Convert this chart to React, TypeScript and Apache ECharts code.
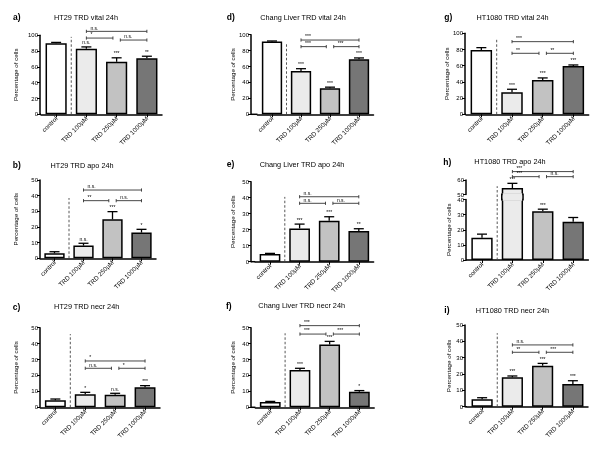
import React, { useEffect, useRef } from "react";
import * as echarts from "echarts";

const categories = ["control", "TRD 100µM", "TRD 250µM", "TRD 1000µM"];
const panelLetters = ["a)", "b)", "c)", "d)", "e)", "f)", "g)", "h)", "i)"];
const panelTitles = [
  "HT29 TRD vital 24h",
  "HT29 TRD apo 24h",
  "HT29 TRD necr 24h",
  "Chang Liver TRD vital 24h",
  "Chang Liver TRD apo 24h",
  "Chang Liver TRD necr 24h",
  "HT1080 TRD vital 24h",
  "HT1080 TRD apo 24h",
  "HT1080 TRD necr 24h",
];
const yAxisName = "Percentage of cells";

type Bracket = [number, number, number, string];

// a) HT29 vital
const htVitalMeans = [90, 83, 66.5, 71];
const htVitalErr = [1, 2.3, 5, 2.5];
const htVitalStars = ["", "n.s.", "***", "**"];
const htVitalBrackets: Bracket[] = [[1, 3, 105, "n.s."], [1, 2, 96.5, "*"], [2, 3, 94, "n.s."]];
// b) HT29 apo
const htApoMeans = [3.2, 8.1, 24.9, 16.4];
const htApoErr = [1, 1.5, 4.9, 2.1];
const htApoStars = ["", "n.s.", "***", "*"];
const htApoBrackets: Bracket[] = [[1, 3, 43.6, "n.s."], [1, 2, 36.8, "**"], [2, 3, 36.8, "n.s."]];
// c) HT29 necr
const htNecrMeans = [4.4, 8.2, 7.9, 12.6];
const htNecrErr = [0.8, 1.2, 0.9, 1.0];
const htNecrStars = ["", "*", "n.s.", "***"];
const htNecrBrackets: Bracket[] = [[1, 3, 29.1, "*"], [1, 2, 24.5, "n.s."], [2, 3, 24.5, "*"]];
// d) Chang Liver vital
const clVitalMeans = [91.5, 54.5, 32.8, 69.2];
const clVitalErr = [0.6, 2.8, 1.3, 1.6];
const clVitalStars = ["", "***", "***", "***"];
const clVitalBrackets: Bracket[] = [[1, 3, 93.3, "***"], [1, 2, 85, "***"], [2, 3, 85, "***"]];
// e) Chang Liver apo
const clApoMeans = [4.8, 20.8, 25.6, 19.2];
const clApoErr = [0.4, 2.7, 2.5, 1.4];
const clApoStars = ["", "***", "***", "**"];
const clApoBrackets: Bracket[] = [[1, 3, 40.6, "n.s."], [1, 2, 36.5, "n.s."], [2, 3, 36.5, "n.s."]];
// f) Chang Liver necr
const clNecrMeans = [3.3, 23.4, 39.5, 9.8];
const clNecrErr = [0.4, 1.1, 1.9, 0.7];
const clNecrStars = ["", "***", "***", "*"];
const clNecrBrackets: Bracket[] = [[1, 3, 51.3, "***"], [1, 2, 46, "***"], [2, 3, 46, "***"]];
// g) HT1080 vital
const fxVitalMeans = [79.4, 27.2, 42.4, 59.7];
const fxVitalErr = [2.9, 3.7, 2.5, 1.2];
const fxVitalStars = ["", "***", "***", "***"];
const fxVitalBrackets: Bracket[] = [[1, 3, 89.7, "***"], [1, 2, 75.3, "**"], [2, 3, 75.3, "**"]];
// h) HT1080 apo (broken axis)
const fxApoMeans = [14.7, 54.5, 32.3, 25.3];
const fxApoErr = [2.4, 3.2, 1.3, 2.8];
const fxApoStars = ["", "***", "***", ""];
const fxApoBrackets: Bracket[] = [[1, 3, 65.8, "***"], [1, 2, 62.3, "***"], [2, 3, 62.3, "n.s."]];
// i) HT1080 necr
const fxNecrMeans = [4.5, 18, 25.1, 13.9];
const fxNecrErr = [1, 0.8, 1.4, 2];
const fxNecrStars = ["", "***", "***", "***"];
const fxNecrBrackets: Bracket[] = [[1, 3, 37.8, "n.s."], [1, 2, 33.3, "**"], [2, 3, 33.3, "***"]];

const axisMax = [100, 50, 50, 100, 50, 50, 100, 40, 50];
const axisStep = [20, 10, 10, 20, 10, 10, 20, 10, 10];
const brokenUpperMin = 50;
const brokenUpperMax = 60;

const panelData = [
  { means: htVitalMeans, errs: htVitalErr, stars: htVitalStars, brackets: htVitalBrackets },
  { means: htApoMeans, errs: htApoErr, stars: htApoStars, brackets: htApoBrackets },
  { means: htNecrMeans, errs: htNecrErr, stars: htNecrStars, brackets: htNecrBrackets },
  { means: clVitalMeans, errs: clVitalErr, stars: clVitalStars, brackets: clVitalBrackets },
  { means: clApoMeans, errs: clApoErr, stars: clApoStars, brackets: clApoBrackets },
  { means: clNecrMeans, errs: clNecrErr, stars: clNecrStars, brackets: clNecrBrackets },
  { means: fxVitalMeans, errs: fxVitalErr, stars: fxVitalStars, brackets: fxVitalBrackets },
  { means: fxApoMeans, errs: fxApoErr, stars: fxApoStars, brackets: fxApoBrackets },
  { means: fxNecrMeans, errs: fxNecrErr, stars: fxNecrStars, brackets: fxNecrBrackets },
];

const layouts: any[] = [
  { axisX: 40, left: 41, top: 35.3, width: 121, height: 79, dash: 0.98, lx: 13, tx: 86, ty: 17.3, nameGap: 22 },
  { axisX: 40, left: 40, top: 180, width: 116, height: 78.3, dash: 0.77, lx: 12.7, tx: 82, ty: 165, nameGap: 22 },
  { axisX: 40, left: 40.4, top: 327.7, width: 119.6, height: 79.6, dash: 0.92, lx: 12.7, tx: 86.7, ty: 306.7, nameGap: 22 },
  { axisX: 251, left: 257.5, top: 34.7, width: 116, height: 79.6, dash: 0.89, lx: 226.7, tx: 303, ty: 17, nameGap: 16 },
  { axisX: 251, left: 255.2, top: 181.7, width: 118.4, height: 80, dash: 0.81, lx: 226.7, tx: 302, ty: 164, nameGap: 16 },
  { axisX: 251, left: 255.4, top: 327.7, width: 118.8, height: 79.6, dash: 0.93, lx: 226, tx: 301.7, ty: 305.7, nameGap: 16 },
  { axisX: 465, left: 466, top: 33.3, width: 122.7, height: 81, dash: 0.92, lx: 444.3, tx: 512.5, ty: 17.3, nameGap: 16 },
  { axisX: 466, left: 466.8, top: 199.5, width: 121.6, height: 60.5, upperTop: 180, upperHeight: 14.5, dash: 1.22, lx: 443.3, tx: 510, ty: 161.5, nameGap: 15 },
  { axisX: 465, left: 467, top: 325, width: 121, height: 81.7, dash: 0.9, lx: 444.3, tx: 512.5, ty: 310, nameGap: 14 },
];

const barColors = ["#ffffff", "#ebebeb", "#c2c2c2", "#767676"];
const BAR_FRACTION = 0.7;
const FONT = '"Liberation Sans", Arial, sans-serif';
const INK = "#000000";

function txt(text: string, x: number, y: number, size: number, align: string, vAlign: string, weight = "normal") {
  return {
    type: "text",
    style: {
      text,
      x,
      y,
      fontSize: size,
      fontFamily: FONT,
      fontWeight: weight,
      fill: INK,
      align,
      verticalAlign: vAlign,
    },
  };
}

function buildOption() {
  const grids: any[] = [];
  const xAxes: any[] = [];
  const yAxes: any[] = [];
  const series: any[] = [];
  const graphic: any[] = [];

  panelData.forEach((p, pi) => {
    const L = layouts[pi];
    const broken = L.upperTop !== undefined;
    const segs = broken
      ? [
          { top: L.upperTop, height: L.upperHeight, min: brokenUpperMin, max: brokenUpperMax, interval: 10, isTop: true, isBottom: false },
          { top: L.top, height: L.height, min: 0, max: axisMax[pi], interval: axisStep[pi], isTop: false, isBottom: true },
        ]
      : [{ top: L.top, height: L.height, min: 0, max: axisMax[pi], interval: axisStep[pi], isTop: true, isBottom: true }];

    graphic.push(txt(panelLetters[pi], L.lx, L.ty, 8.5, "left", "middle", "bold"));
    graphic.push(txt(panelTitles[pi], L.tx, L.ty, 7.3, "center", "middle"));

    segs.forEach((s) => {
      const gi = grids.length;
      grids.push({ left: L.left, top: s.top, width: L.width, height: s.height, containLabel: false });
      xAxes.push({
        type: "category",
        gridIndex: gi,
        data: categories,
        show: s.isBottom,
        axisLine: { show: true, lineStyle: { color: "#000", width: 1.5 } },
        axisTick: { show: true, alignWithLabel: true, length: 3, lineStyle: { color: "#000", width: 1 } },
        axisLabel: { rotate: 45, fontSize: 6.3, margin: 3, color: INK, interval: 0, fontFamily: FONT },
        splitLine: { show: false },
      });
      yAxes.push({
        type: "value",
        gridIndex: gi,
        min: s.min,
        max: s.max,
        interval: s.interval,
        offset: L.left - L.axisX,
        axisLine: { show: true, lineStyle: { color: "#000", width: 1.5 } },
        axisTick: { show: true, length: 3, lineStyle: { color: "#000", width: 1 } },
        axisLabel: { fontSize: 6, margin: 2, color: INK, fontFamily: FONT },
        splitLine: { show: false },
        name: s.isBottom ? yAxisName : "",
        nameLocation: "middle",
        nameGap: L.nameGap,
        nameRotate: 90,
        nameTextStyle: { fontSize: 6.2, color: INK, fontFamily: FONT },
      });

      series.push({
        type: "bar",
        xAxisIndex: gi,
        yAxisIndex: gi,
        barWidth: BAR_FRACTION * 100 + "%",
        clip: true,
        z: 2,
        data: p.means.map((v, k) => ({
          value: v,
          itemStyle: { color: barColors[k], borderColor: "#000", borderWidth: 1.5 },
        })),
      });

      const inSeg = (top: number) => top >= s.min && top <= s.max + (s.isTop ? 1000 : 0);
      series.push({
        type: "custom",
        xAxisIndex: gi,
        yAxisIndex: gi,
        z: 5,
        clip: false,
        data: p.means.map((v, k) => [k, v + p.errs[k]]),
        renderItem: (params: any, api: any) => {
          const k = params.dataIndex;
          const m = p.means[k];
          const e = p.errs[k];
          const children: any[] = [];
          // bridge a bar across the axis break
          if (broken && s.isBottom && m > s.max) {
            const cs = params.coordSys;
            const c = api.coord([k, s.max]);
            const w = api.size([1, 0])[0] * BAR_FRACTION;
            const upperBottom = L.upperTop + L.upperHeight;
            children.push({
              type: "rect",
              shape: { x: c[0] - w / 2 + 0.75, y: upperBottom - 1.2, width: w - 1.5, height: cs.y - upperBottom + 2.4 },
              style: { fill: barColors[k] },
            });
            children.push({ type: "line", shape: { x1: c[0] - w / 2, y1: upperBottom - 1, x2: c[0] - w / 2, y2: cs.y + 1 }, style: { stroke: "#000", lineWidth: 1.5 } });
            children.push({ type: "line", shape: { x1: c[0] + w / 2, y1: upperBottom - 1, x2: c[0] + w / 2, y2: cs.y + 1 }, style: { stroke: "#000", lineWidth: 1.5 } });
          }
          if (!inSeg(m + e) || m < s.min) return { type: "group", children };
          const a = api.coord([k, m]);
          const b = api.coord([k, m + e]);
          const st = { stroke: "#000", lineWidth: 1.3 };
          children.push({ type: "line", shape: { x1: a[0], y1: a[1], x2: b[0], y2: b[1] }, style: st });
          children.push({ type: "line", shape: { x1: b[0] - 5, y1: b[1], x2: b[0] + 5, y2: b[1] }, style: st });
          if (p.stars[k]) children.push(txt(p.stars[k], b[0], b[1] - 2, 5, "center", "bottom"));
          return { type: "group", children };
        },
      });

      if (s.isTop) {
        series.push({
          type: "custom",
          xAxisIndex: gi,
          yAxisIndex: gi,
          z: 6,
          clip: false,
          data: p.brackets.map((br) => [br[0], br[2]]),
          renderItem: (params: any, api: any) => {
            const br = p.brackets[params.dataIndex];
            const [i, j, y, lab] = br;
            const pi1 = api.coord([i, y]);
            const pj = api.coord([j, y]);
            let x1 = pi1[0];
            let x2 = pj[0];
            const py = pi1[1];
            if (p.brackets.some((o) => o !== br && o[1] === i && o[1] - o[0] === 1)) x1 += 3.7;
            if (p.brackets.some((o) => o !== br && o[0] === j && o[1] - o[0] === 1)) x2 -= 3.7;
            const st = { stroke: "#333", lineWidth: 0.9 };
            return {
              type: "group",
              children: [
                { type: "line", shape: { x1, y1: py, x2, y2: py }, style: st },
                { type: "line", shape: { x1, y1: py - 1.6, x2: x1, y2: py + 1.6 }, style: st },
                { type: "line", shape: { x1: x2, y1: py - 1.6, x2, y2: py + 1.6 }, style: st },
                txt(lab, x1 + 4, py - 1.2, 5, "left", "bottom"),
              ],
            };
          },
        });
      }

      if (s.isBottom) {
        series.push({
          type: "custom",
          xAxisIndex: gi,
          yAxisIndex: gi,
          z: 4,
          clip: false,
          data: [[0, 0]],
          renderItem: (params: any, api: any) => {
            const c0 = api.coord([0, 0]);
            const c1 = api.coord([1, 0]);
            const cs = params.coordSys;
            const y0 = cs.y + cs.height;
            const x = (c0[0] + c1[0]) / 2;
            const children: any[] = [
              {
                type: "line",
                shape: { x1: x, y1: y0, x2: x, y2: y0 - L.dash * cs.height },
                style: { stroke: "#444", lineWidth: 0.9, lineDash: [2.5, 2] },
              },
            ];
            if (cs.x - L.axisX > 0.5) {
              children.push({
                type: "line",
                shape: { x1: L.axisX, y1: y0, x2: cs.x, y2: y0 },
                style: { stroke: "#000", lineWidth: 1.5 },
              });
            }
            return { type: "group", children };
          },
        });
      }
    });
  });

  return {
    animation: false,
    backgroundColor: "#ffffff",
    textStyle: { fontFamily: FONT },
    grid: grids,
    xAxis: xAxes,
    yAxis: yAxes,
    series,
    graphic,
  };
}

export default function App() {
  const ref = useRef<HTMLDivElement>(null);
  useEffect(() => {
    document.body.style.margin = "0";
    if (!ref.current) return;
    const chart = echarts.init(ref.current, undefined, { renderer: "svg" });
    chart.setOption(buildOption() as any);
    return () => chart.dispose();
  }, []);
  return (
    <div
      ref={ref}
      style={{ position: "absolute", left: 0, top: 0, width: 600, height: 455, background: "#fff", willChange: "transform" }}
    />
  );
}
